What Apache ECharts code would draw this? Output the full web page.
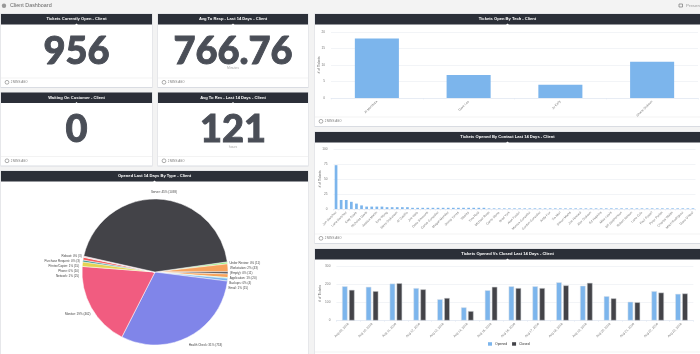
<!DOCTYPE html>
<html>
<head>
<meta charset="utf-8">
<style>html,body{margin:0;padding:0;background:#f3f3f3}#c{width:700px;height:354px}</style>
<script src="https://cdn.jsdelivr.net/npm/echarts@6/dist/echarts.min.js"></script>
</head>
<body>
<div id="c"></div>
<script>
var techNames = ['Al Mendoza', 'Dave Lee', 'Jo Kelly', 'Shane Dickson'];
var techValues = [18, 7, 4, 11];

var contactValues = [73,15,15,12,9,6,4,4,4,4,3,3,3,3,3,2,2,2,2,2,2,2,2,2,2,2,2,2,2,2,1,1,1,1,1,1,1,1,1,1,1,1,1,1,1,1,1,1,1,1,1,1,1,1,1,1,1,1,1,1,1,1,1,1,1,1,1,1,1,1,1];
var contactLabels = ['Jon Sanchez','Lana Sanchez','Katy Doyle','Nicholas Davis','Jessica Martin','Tony Wong','Steve Dickerson','Al Castillo','Joe Vaile','Dave Simmons','Carlos Gonzalez','Megan Mendez','Jimmy Torres','Wesley','Tina Reid','Michael Ross','Carrie Stone','Brad York','Alan Foster','Monica Gonzalez','Gordon Gonzalez','Andy Fox','Tia Mori','Simon Marks','Joe Howard','Alex Dickson','Ed Hopkins','Mike Lewis','Bill Stephenson','Robert Nelson','Lana Cole','Paul Powell','Peter Parish','Charles Walsh','Mitch Rodriguez','Dave O\'Neal'];

var dates = ['Aug 09, 2016','Aug 10, 2016','Aug 11, 2016','Aug 12, 2016','Aug 13, 2016','Aug 14, 2016','Aug 15, 2016','Aug 16, 2016','Aug 17, 2016','Aug 18, 2016','Aug 19, 2016','Aug 20, 2016','Aug 21, 2016','Aug 22, 2016','Aug 23, 2016'];
var openedValues = [190,187,205,180,118,73,168,190,190,212,193,135,104,163,148];
var closedValues = [170,163,207,173,125,52,187,180,180,195,209,123,101,155,150];

var typeNames = ['Under Review','Workstation','(Empty)','Application','Backups','Email','Health Check','Monitor','Network','Phone','Printer/Copier','Purchase Request','Reboot','Server'];
var typeValues = [11,43,11,20,4,15,753,462,25,10,15,3,3,1093];
var typePercents = [0,2,0,1,0,1,31,19,1,0,1,0,0,45];
var typeColors = ['#90ed7d','#f7a35c','#434348','#f7a35c','#90ed7d','#7cb5ec','#8085e9','#f15c80','#e4d354','#2b908f','#f45b5b','#91e8e1','#f15c80','#434348'];

var blue = '#7cb5ec', dark = '#434348', headerColor = '#2b2f38';
var font = '"Liberation Sans", sans-serif';

var panels = [
  {x:1,y:14,w:151,h:73,title:'Tickets Currently Open - Client',foot:78},
  {x:158,y:14,w:150,h:73,title:'Avg To Resp - Last 14 Days - Client',foot:78},
  {x:1,y:92.5,w:151,h:73,title:'Waiting On Customer - Client',foot:156.5},
  {x:158,y:92.5,w:150,h:73,title:'Avg To Res - Last 14 Days - Client',foot:156.5},
  {x:1,y:171,w:307,h:183,title:'Opened Last 14 Days By Type - Client'},
  {x:315,y:14,w:385,h:112,title:'Tickets Open By Tech - Client',foot:117},
  {x:315,y:132,w:385,h:111,title:'Tickets Opened By Contact Last 14 Days - Client',foot:234},
  {x:315,y:249,w:385,h:105,title:'Tickets Opened Vs Closed Last 14 Days - Client',foot:352,noAgo:true}
];
var bigNumbers = [
  {text:'956',x:76.5,y:51.5},
  {text:'766.76',x:233,y:51.5,unit:'Minutes',uy:68.5},
  {text:'0',x:76.5,y:130},
  {text:'121',x:233,y:130,unit:'hours',uy:147}
];

var g = [];
panels.forEach(function(p){
  g.push({type:'rect',z:-20,shape:{x:p.x-0.5,y:p.y-0.5,width:p.w+1,height:p.h+1.5},style:{fill:'#d9dce2'}});
  g.push({type:'rect',z:-19,shape:{x:p.x,y:p.y,width:p.w,height:p.h},style:{fill:'#ffffff'}});
  g.push({type:'rect',z:-18,shape:{x:p.x,y:p.y,width:p.w,height:10.5},style:{fill:headerColor}});
  var cx = p.x + p.w/2;
  g.push({type:'polygon',z:-17,shape:{points:[[cx-1.5,p.y+11],[cx+1.5,p.y+11],[cx,p.y+9.5]]},style:{fill:'#fff'}});
  g.push({type:'text',z:5,style:{x:cx,y:p.y+5.2,text:p.title,fill:'#fff',font:'bold 4.1px '+font,textAlign:'center',textVerticalAlign:'middle'}});
  if(p.foot){
    g.push({type:'line',z:-17,shape:{x1:p.x,y1:p.foot,x2:p.x+p.w,y2:p.foot},style:{stroke:'#eeeeee',lineWidth:0.7}});
    if(!p.noAgo){
      var ay = p.foot+4.3;
      g.push({type:'circle',z:5,shape:{cx:p.x+6,cy:ay,r:1.9},style:{fill:'none',stroke:'#777',lineWidth:0.6}});
      g.push({type:'text',z:5,style:{x:p.x+9.7,y:ay,text:'2 MINS AGO',fill:'#777',font:'2.9px '+font,textVerticalAlign:'middle'}});
    }
  }
});
bigNumbers.forEach(function(b){
  g.push({type:'text',z:5,style:{x:b.x,y:b.y,text:b.text,fill:'#4a4e57',stroke:'#4a4e57',lineWidth:0.9,font:'900 38px Lato, sans-serif',textAlign:'center',textVerticalAlign:'middle'}});
  if(b.unit) g.push({type:'text',z:5,style:{x:b.x,y:b.uy,text:b.unit,fill:'#aaa',font:'3.4px '+font,textAlign:'center',textVerticalAlign:'middle'}});
});
g.push({type:'circle',z:5,shape:{cx:4,cy:5.7,r:2.2},style:{fill:'#999'}});
g.push({type:'text',z:5,style:{x:10,y:5.7,text:'Client Dashboard',fill:'#666',font:'5.4px '+font,textVerticalAlign:'middle'}});
g.push({type:'rect',z:5,shape:{x:679,y:4,width:3.5,height:3},style:{fill:'none',stroke:'#777',lineWidth:0.7}});
g.push({type:'text',z:5,style:{x:686,y:5.8,text:'Present',fill:'#999',font:'4.4px '+font,textVerticalAlign:'middle'}});

function xAxis(idx, data){
  return {type:'category',gridIndex:idx,data:data,
    axisLine:{lineStyle:{color:'#dfe6f2',width:0.6}},
    axisTick:{show:true,length:1.5,lineStyle:{color:'#dfe6f2',width:0.5}},
    axisLabel:{rotate:45,interval:0,fontSize:3.2,color:'#777',margin:3,fontFamily:font},
    splitLine:{show:false}};
}
function yAxis(idx, max, interval, nameGap){
  return {type:'value',gridIndex:idx,min:0,max:max,interval:interval,
    name:'# of Tickets',nameLocation:'middle',nameRotate:90,nameGap:nameGap,nameMoveOverlap:false,
    nameTextStyle:{fontSize:3.4,color:'#666',fontFamily:font},
    axisLine:{show:false},axisTick:{show:false},
    axisLabel:{fontSize:3.2,color:'#777',margin:6,fontFamily:font},
    splitLine:{lineStyle:{color:'#eff1f5',width:0.8}}};
}

var contactCats = contactValues.map(function(v,i){return i%2===0 ? contactLabels[i/2] : '';});
var pieLabelShift = {'Server':[-13,-5.5],'Health Check':[-7,8],'Monitor':[6,6],'Network':[-1,0],'Phone':[-1,0],'Printer/Copier':[-1,0],'Purchase Request':[-1,0]};

var option = {
  animation:false,
  backgroundColor:'#f3f3f3',
  textStyle:{fontFamily:font},
  graphic:{elements:g},
  grid:[
    {left:331,top:32,width:367,height:66},
    {left:333.5,top:149,width:362,height:60},
    {left:336.4,top:266.5,width:357,height:54}
  ],
  xAxis:[xAxis(0,techNames),xAxis(1,contactCats),xAxis(2,dates)],
  yAxis:[yAxis(0,20,5,10),yAxis(1,100,25,12),yAxis(2,300,100,15)],
  legend:{show:true,left:488,top:342.2,padding:0,itemWidth:4,itemHeight:3.5,itemGap:5,
    itemStyle:{borderWidth:0},
    textStyle:{fontSize:3.4,color:'#333',padding:[0,0,0,-2],fontFamily:font},
    data:['Opened','Closed'],icon:'rect'},
  series:[
    {type:'bar',name:'Tech',xAxisIndex:0,yAxisIndex:0,data:techValues,barWidth:'48%',itemStyle:{color:blue}},
    {type:'bar',name:'Contact',xAxisIndex:1,yAxisIndex:1,data:contactValues,barWidth:2.7,itemStyle:{color:blue}},
    {type:'bar',name:'Opened',xAxisIndex:2,yAxisIndex:2,data:openedValues,barWidth:5.5,barGap:'27%',itemStyle:{color:blue,borderColor:'#dfe3e8',borderWidth:0.5}},
    {type:'bar',name:'Closed',xAxisIndex:2,yAxisIndex:2,data:closedValues,barWidth:5.5,barGap:'27%',itemStyle:{color:dark,borderColor:'#c9ccd1',borderWidth:0.5}},
    {type:'pie',name:'Type',center:[155,272],radius:[0,73],startAngle:8,clockwise:true,avoidLabelOverlap:true,
      itemStyle:{borderColor:'#fff',borderWidth:0.5},
      data:typeNames.map(function(n,i){return {name:n,value:typeValues[i],itemStyle:{color:typeColors[i]}};}),
      label:{fontSize:3,color:'#444',fontFamily:font,
        formatter:function(p){return p.name+': '+typePercents[p.dataIndex]+'% ('+p.value+')';}},
      labelLine:{show:false,length:1,length2:1},
      labelLayout:function(p){var s=pieLabelShift[typeNames[p.dataIndex]];return s?{dx:s[0],dy:s[1]}:{};}}
  ]
};
var chart = echarts.init(document.getElementById('c'),null,{renderer:'canvas'});
chart.setOption(option);
</script>
</body>
</html>
